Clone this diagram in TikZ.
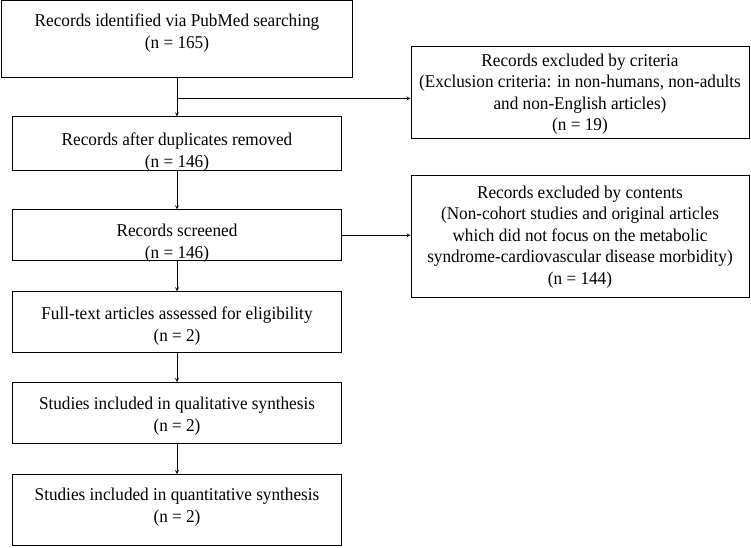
\documentclass[tikz,border=0pt]{standalone}
\usepackage{fontspec}
\setmainfont{Liberation Serif}[FakeStretch=0.955]
\usetikzlibrary{positioning, arrows}
\tikzstyle{mainbox} = [rectangle, minimum width=329pt, text centered, align=center, draw=black, line width=0.9pt, inner ysep=0pt, font=\fontsize{18}{22}\selectfont]
\tikzstyle{sidebox} = [rectangle, minimum width=338pt, text centered, align=center, draw=black, line width=0.9pt, inner ysep=2pt, font=\fontsize{18}{21.5}\selectfont]
\tikzstyle{arrow} = [line width=0.8pt,->,>=stealth]

\begin{document}
\begin{tikzpicture}[x=1pt, y=1pt]
\useasboundingbox (0,0) rectangle (751,547);

\node (ident) [mainbox, minimum width=351pt, minimum height=77pt, text depth=15pt] at (177,508.5) {Records identified via PubMed searching\\(n = 165)};
\node (dupl) [mainbox, minimum height=54pt, below=39pt of ident, text height=47.5pt, text depth=1pt] {Records after duplicates removed\\(n = 146)};
\node (screen) [mainbox, minimum height=51pt, below=38pt of dupl, text height=46pt, text depth=0pt] {Records screened\\(n = 146)};
\node (full) [mainbox, minimum height=61pt, below=30pt of screen, text height=40pt, text depth=2pt] {Full-text articles assessed for eligibility\\(n = 2)};
\node (qual) [mainbox, minimum height=61pt, below=29pt of full, text height=39pt, text depth=3pt] {Studies included in qualitative synthesis\\(n = 2)};
\node (quant) [mainbox, minimum height=71pt, below=30pt of qual, text depth=9pt] {Studies included in quantitative synthesis\\(n = 2)};

\node (crit) [sidebox, minimum height=92pt, text height=82pt, text depth=4.5pt] at (580,455) {Records excluded by criteria\\(Exclusion criteria: in non-humans, non-adults\\and non-English articles)\\(n = 19)};
\node (cont) [sidebox, minimum height=122pt, below=37pt of crit] {Records excluded by contents\\(Non-cohort studies and original articles\\which did not focus on the metabolic\\syndrome-cardiovascular disease morbidity)\\(n = 144)};

\coordinate (split) at ([yshift=-21pt]ident.south);

\draw [arrow] (ident) -- (dupl);
\draw [arrow] (split) -- (split -| crit.west);
\draw [arrow] (dupl) -- (screen);
\draw [arrow] (screen.east) -- (screen.east -| cont.west);
\draw [arrow] (screen) -- (full);
\draw [arrow] (full) -- (qual);
\draw [arrow] (qual) -- (quant);

\end{tikzpicture}
\end{document}
